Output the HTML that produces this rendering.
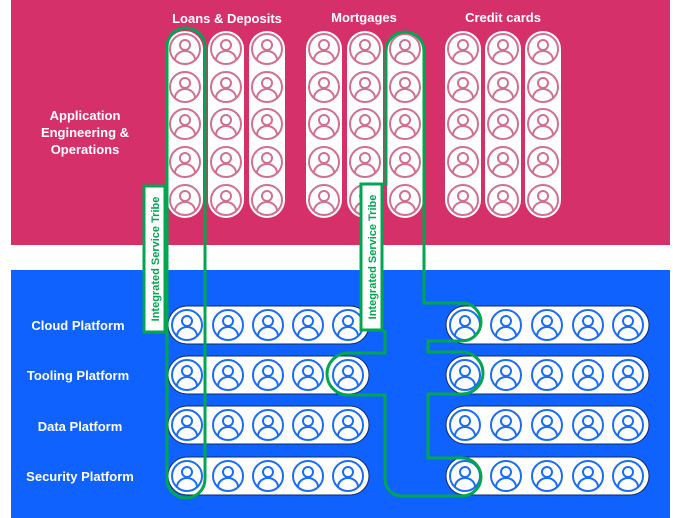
<!DOCTYPE html>
<html><head><meta charset="utf-8"><style>
body{margin:0;background:#fff;}
svg{display:block;font-family:"Liberation Sans",sans-serif;}
</style></head><body>
<svg id="s" width="673" height="518" viewBox="0 0 673 518">
<rect x="11" y="0" width="659" height="245" fill="#d6306b"/>
<rect x="11" y="270" width="659" height="248" fill="#0f62fe"/>
<g fill="#fff" font-weight="bold" font-size="13" text-anchor="middle">
<text x="227" y="23">Loans &amp; Deposits</text>
<text x="364" y="22">Mortgages</text>
<text x="503" y="22">Credit cards</text>
<text x="85" y="120">Application</text>
<text x="85" y="137">Engineering &amp;</text>
<text x="85" y="154">Operations</text>
<text x="78" y="330">Cloud Platform</text>
<text x="78" y="380">Tooling Platform</text>
<text x="80" y="431">Data Platform</text>
<text x="80" y="481">Security Platform</text>
</g>
<g id="pills"></g>
<g fill="none" stroke="#00a650" stroke-width="3">
<rect x="167" y="28" width="38" height="470" rx="19"/>
<path d="M405 32 a19 19 0 0 1 19 19 V303 H462 a19 19 0 0 1 0 38 H428 V352 H462 a21 21 0 0 1 0 42 H428 V458 H462 a19 19 0 0 1 0 38 H402 a17 17 0 0 1 -17 -17 V395 H348 a19 19 0 0 1 0 -42 H385 V330 M405 32 a19 19 0 0 0 -19 19 V186"/>
</g>
<g>
<rect x="144" y="186" width="21" height="146" fill="#fff" stroke="#00a650" stroke-width="3"/>
<text transform="translate(159,259) rotate(-90)" text-anchor="middle" font-size="11" font-weight="bold" fill="#00a650">Integrated Service Tribe</text>
</g>
<g>
<rect x="361" y="184" width="21" height="146" fill="#fff" stroke="#00a650" stroke-width="3"/>
<text transform="translate(376,257) rotate(-90)" text-anchor="middle" font-size="11" font-weight="bold" fill="#00a650">Integrated Service Tribe</text>
</g>
</svg>
<script>
const NS="http://www.w3.org/2000/svg";
const g=document.getElementById('pills');
function el(t,a,p){const e=document.createElementNS(NS,t);for(const k in a)e.setAttribute(k,a[k]);p.appendChild(e);return e;}
function icon(cx,cy,col,p){
 const gi=el('g',{},p);
 
 
 el('circle',{cx:cx,cy:cy,r:15,fill:'#fff',stroke:col,'stroke-width':2},gi);
 el('circle',{cx:cx,cy:cy-4,r:5,fill:'none',stroke:col,'stroke-width':2},gi);
 el('path',{d:`M${cx-10} ${cy+11} a10 9 0 0 1 20 0`,fill:'none',stroke:col,'stroke-width':2},gi);
}
const vCols=[185,226,267,324,365,405,463,503,543];
const vRows=[49,87,124,162,200];
vCols.forEach(x=>{
 const pg=el('g',{},g);
 
 
 el('rect',{x:x-18,y:31,width:36,height:187,rx:18,fill:'#fff'},pg);
 vRows.forEach(y=>icon(x,y,'#d17091',pg));
});
const hRows=[325,375,425,476];
const hSets=[[187,228,268,308,348],[465,506,547,588,628]];
hRows.forEach(y=>hSets.forEach(xs=>{
 const pg=el('g',{},g);
 
 
 el('rect',{x:xs[0]-19,y:y-19,width:xs[4]-xs[0]+40,height:38,rx:19,fill:'#fff',stroke:'#0a2a6e','stroke-width':1},pg);
 xs.forEach(x=>icon(x,y,'#1a6ef5',pg));
}));
</script>
</body></html>
